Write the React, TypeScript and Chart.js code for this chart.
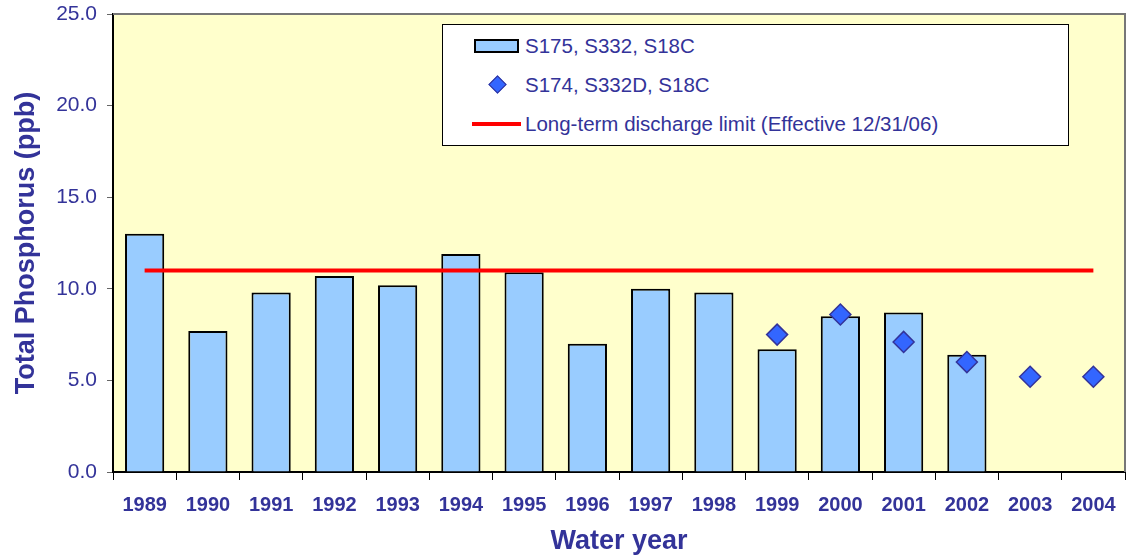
import React, { useEffect, useRef } from "react";
import { Chart, registerables } from "chart.js";

Chart.register(...registerables);

const years = ["1989","1990","1991","1992","1993","1994","1995","1996","1997","1998","1999","2000","2001","2002","2003","2004"];
const barValues = [13.0, 7.7, 9.8, 10.7, 10.2, 11.9, 10.9, 7.0, 10.0, 9.8, 6.7, 8.5, 8.7, 6.4, null, null];
const diamondValues = [null, null, null, null, null, null, null, null, null, null, 7.5, 8.6, 7.1, 6.0, 5.2, 5.2];
const limitValues = [11, 11, 11, 11, 11, 11, 11, 11, 11, 11, 11, 11, 11, 11, 11, 11];
const yTicks = [0, 5, 10, 15, 20, 25];

const barLabel = "S175, S332, S18C";
const diamondLabel = "S174, S332D, S18C";
const limitLabel = "Long-term discharge limit (Effective 12/31/06)";

const NAVY = "#333399";
const FONT = "'Liberation Sans', Arial, sans-serif";

const plotBg = {
  id: "plotBg",
  beforeDraw(chart: any) {
    const { ctx, chartArea: a } = chart;
    ctx.save();
    ctx.fillStyle = "#FFFFCC";
    ctx.fillRect(a.left, a.top, a.right - a.left, a.bottom - a.top);
    ctx.restore();
  },
  afterDraw(chart: any) {
    const { ctx, chartArea: a } = chart;
    ctx.save();
    ctx.strokeStyle = "#777777";
    ctx.lineWidth = 2;
    ctx.beginPath();
    ctx.moveTo(a.left, a.top);
    ctx.lineTo(a.right, a.top);
    ctx.lineTo(a.right, a.bottom);
    ctx.stroke();
    ctx.restore();
  },
};

export default function App() {
  const ref = useRef<HTMLCanvasElement | null>(null);
  useEffect(() => {
    document.body.style.margin = "0";
    const chart = new Chart(ref.current!, {
      type: "bar",
      data: {
        labels: years,
        datasets: [
          {
            type: "line",
            label: limitLabel,
            data: limitValues,
            borderColor: "#FF0000",
            backgroundColor: "#FF0000",
            borderWidth: 4,
            pointRadius: 0,
            order: 1,
          } as any,
          {
            type: "line",
            label: diamondLabel,
            data: diamondValues,
            showLine: false,
            pointStyle: "rectRot",
            pointRadius: 10.5,
            backgroundColor: "#3366FF",
            borderColor: NAVY,
            borderWidth: 1.5,
            order: 0,
          } as any,
          {
            type: "bar",
            label: barLabel,
            data: barValues,
            backgroundColor: "#99CCFF",
            borderColor: "#000000",
            borderWidth: 2,
            categoryPercentage: 1,
            barPercentage: 0.62,
            order: 2,
          } as any,
        ],
      },
      options: {
        animation: false,
        responsive: false,
        maintainAspectRatio: false,
        layout: { padding: { top: 14, right: 0, left: 0, bottom: 0 } },
        plugins: { legend: { display: false }, tooltip: { enabled: false } },
        scales: {
          x: {
            grid: { offset: true, drawOnChartArea: false, tickLength: 8, color: "#000000" },
            border: { color: "#000000", width: 2 },
            ticks: { color: NAVY, font: { family: FONT, size: 20, weight: "bold", lineHeight: 2.5 }, padding: 0, maxRotation: 0, autoSkip: false },
            title: { display: true, text: "Water year", color: NAVY, font: { family: FONT, size: 27, weight: "bold" }, padding: { top: 0, bottom: 1 } },
            afterFit: (s: any) => { s.height = 87; s.paddingLeft = 0; s.paddingRight = 0; },
          },
          y: {
            min: 0,
            max: 25,
            afterBuildTicks: (s: any) => { s.ticks = yTicks.map((v) => ({ value: v })); },
            grid: { drawOnChartArea: false, tickLength: 6, color: "#666666" },
            border: { color: "#000000", width: 2 },
            ticks: { color: NAVY, font: { family: FONT, size: 21 }, padding: 10, callback: (v: any) => Number(v).toFixed(1) },
            title: { display: true, text: "Total Phosphorus (ppb)", color: NAVY, font: { family: FONT, size: 27, weight: "bold" }, padding: { top: 10, bottom: 0 } },
            afterFit: (s: any) => { s.width = 113; s.paddingTop = 0; s.paddingBottom = 0; },
          },
        },
      },
      plugins: [plotBg],
    });
    return () => chart.destroy();
  }, []);

  const rowStyle: React.CSSProperties = { display: "flex", alignItems: "center", height: 39 };
  const textStyle: React.CSSProperties = { fontFamily: FONT, fontSize: 20.5, color: NAVY, whiteSpace: "nowrap" };
  const keyStyle: React.CSSProperties = { width: 82, display: "flex", justifyContent: "center", alignItems: "center" };

  return (
    <div style={{ position: "fixed", left: 0, top: 0, width: 1132, height: 559, background: "#fff", overflow: "hidden" }}>
      <canvas ref={ref} width={1137} height={559} style={{ display: "block" }} />
      <div
        style={{
          position: "absolute",
          left: 442,
          top: 24,
          width: 627,
          height: 122,
          background: "#fff",
          border: "1px solid #000",
          boxSizing: "border-box",
          paddingTop: 1,
        }}
      >
        <div style={rowStyle}>
          <div style={keyStyle}>
            <div style={{ width: 45, height: 14, background: "#99CCFF", border: "2px solid #000", boxSizing: "border-box", marginLeft: 25 }} />
          </div>
          <span style={textStyle}>{barLabel}</span>
        </div>
        <div style={rowStyle}>
          <div style={keyStyle}>
            <div style={{ width: 11, height: 11, background: "#3366FF", border: "1px solid " + NAVY, transform: "rotate(45deg)", marginLeft: 26 }} />
          </div>
          <span style={textStyle}>{diamondLabel}</span>
        </div>
        <div style={rowStyle}>
          <div style={keyStyle}>
            <div style={{ width: 49, height: 4, background: "#FF0000", marginLeft: 25 }} />
          </div>
          <span style={textStyle}>{limitLabel}</span>
        </div>
      </div>
    </div>
  );
}
